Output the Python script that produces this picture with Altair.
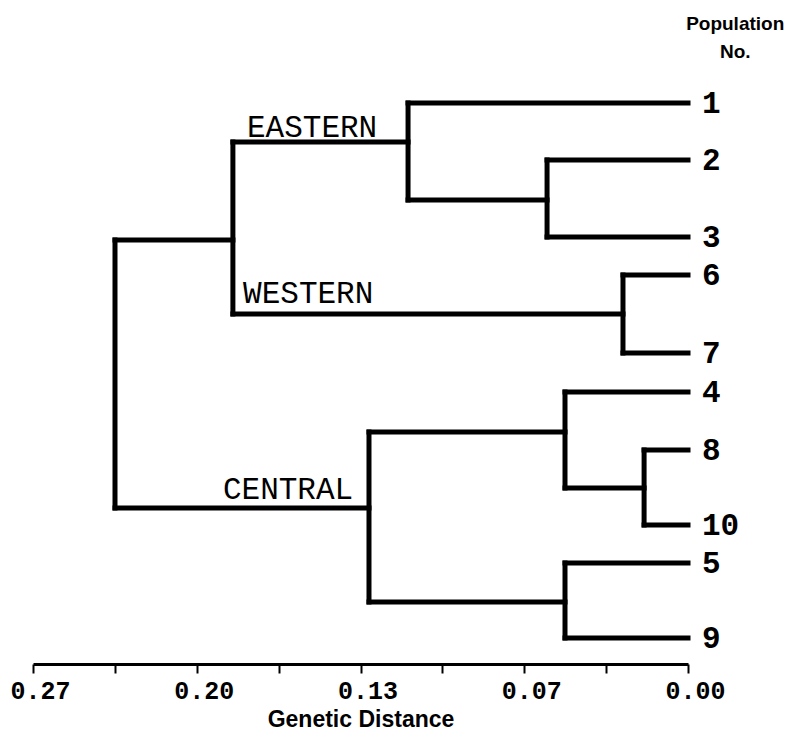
import altair as alt
import pandas as pd

# ---- data ----
leaves = ["1", "2", "3", "6", "7", "4", "8", "10", "5", "9"]
leaf_y = [2.3, 8.0, 15.7, 19.5, 27.3, 31.2, 37.0, 44.5, 48.3, 55.8]   # vertical slot (arbitrary units)

node_names = ["n23", "east", "n67", "ew", "n810", "n4810", "n59", "central", "root"]
node_children = [["2", "3"], ["1", "n23"], ["6", "7"], ["east", "n67"],
                 ["8", "10"], ["4", "n810"], ["5", "9"], ["n4810", "n59"], ["ew", "central"]]
node_dist = [0.0581, 0.1154, 0.0268, 0.1876, 0.0181, 0.0507, 0.0507, 0.1315, 0.2362]
node_y = [12.0, 6.2, 23.4, 16.0, 40.8, 35.2, 52.2, 42.8, 37.3]

clade_names = ["EASTERN", "WESTERN", "CENTRAL"]
clade_dist = [0.1818, 0.1834, 0.1917]
clade_y = [5.7, 22.3, 41.9]

tick_values = [0.0, 0.03375, 0.0675, 0.10125, 0.135, 0.16875, 0.2025, 0.23625, 0.27]
tick_labels = ["0.00", "", "0.07", "", "0.13", "", "0.20", "", "0.27"]

# ---- build segments ----
pos = {}
for n, y in zip(leaves, leaf_y):
    pos[n] = (0.0, y)
for n, d, y in zip(node_names, node_dist, node_y):
    pos[n] = (d, y)

segs = []
for n, ch in zip(node_names, node_children):
    d, _ = pos[n]
    ys = [pos[c][1] for c in ch]
    segs.append({"x": d, "x2": d, "y": min(ys), "y2": max(ys)})
    for c in ch:
        cd, cy = pos[c]
        segs.append({"x": cd, "x2": d, "y": cy, "y2": cy})
seg_df = pd.DataFrame(segs)

leaf_df = pd.DataFrame({"label": leaves, "x": [0.0] * len(leaves), "y": leaf_y})
clade_df = pd.DataFrame({"label": clade_names, "x": clade_dist, "y": clade_y})

expr = "''"
for v, l in zip(tick_values, tick_labels):
    expr = f"abs(datum.value - {v}) < 0.0005 ? '{l}' : ({expr})"

xscale = alt.Scale(domain=[0, 0.27], reverse=True, nice=False, zero=False)
yscale = alt.Scale(domain=[0, 58.4], reverse=True, nice=False, zero=False)

xenc = alt.X("x:Q", scale=xscale, axis=alt.Axis(
    values=tick_values, labelExpr=expr, grid=False,
    domainColor="black", domainWidth=3, tickColor="black", tickWidth=2, tickSize=9,
    labelFont="Liberation Mono", labelFontWeight="bold", labelFontSize=25,
    labelColor="black", labelOffset=7, labelPadding=5, labelFlush=False,
    title="Genetic Distance", titleFont="Liberation Sans", titleFontWeight="bold",
    titleFontSize=23, titleColor="black", titlePadding=5))
yenc = alt.Y("y:Q", scale=yscale, axis=None)

branches = alt.Chart(seg_df).mark_rule(color="black", strokeWidth=5, strokeCap="square").encode(
    x=xenc, x2="x2:Q", y=yenc, y2="y2:Q")

leaf_text = alt.Chart(leaf_df).mark_text(
    align="left", baseline="middle", dx=14, dy=1,
    font="Liberation Mono", fontWeight="bold", fontSize=31, color="black").encode(
    x=alt.X("x:Q", scale=xscale), y=alt.Y("y:Q", scale=yscale), text="label:N")

clade_text = alt.Chart(clade_df).mark_text(
    align="left", baseline="alphabetic",
    font="Liberation Mono", fontSize=31, color="black").encode(
    x=alt.X("x:Q", scale=xscale), y=alt.Y("y:Q", scale=yscale), text="label:N")

chart = alt.layer(branches, leaf_text, clade_text).properties(
    width=655, height=584,
    background="white",
    autosize=alt.AutoSizeParams(type="none"),
    padding={"left": 33, "top": 80, "right": 100, "bottom": 76},
    title=alt.TitleParams(text=["Population", "No."], anchor="end", align="center",
                          dx=-4, offset=18, font="Liberation Sans", fontWeight="bold",
                          fontSize=19, lineHeight=28, color="black"),
).configure_view(strokeWidth=0, stroke="transparent")

chart.save("out.html", embed_options={"renderer": "svg", "actions": False})
